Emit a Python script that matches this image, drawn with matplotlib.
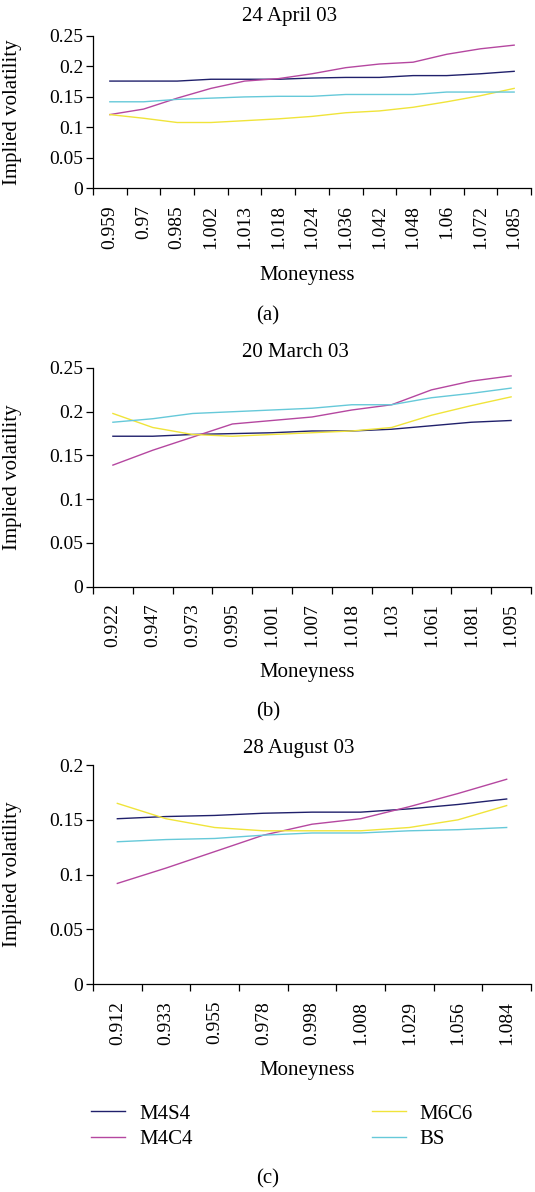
import numpy as np
import matplotlib
matplotlib.use("Agg")
import matplotlib.pyplot as plt
from matplotlib.ticker import FixedLocator, FormatStrFormatter

plt.rcParams['font.family'] = ['Liberation Serif', 'DejaVu Serif']

W, H = 535, 1192

# Panel (a): 24 April 03
money_a = ['0.959', '0.97', '0.985', '1.002', '1.013', '1.018', '1.024',
           '1.036', '1.042', '1.048', '1.06', '1.072', '1.085']
m4s4_a = [0.176, 0.176, 0.176, 0.179, 0.179, 0.179, 0.181, 0.182, 0.182, 0.185, 0.185, 0.188, 0.192]
m4c4_a = [0.121, 0.130, 0.148, 0.164, 0.176, 0.180, 0.188, 0.198, 0.204, 0.207, 0.220, 0.229, 0.235]
m6c6_a = [0.121, 0.115, 0.108, 0.108, 0.111, 0.114, 0.118, 0.124, 0.127, 0.133, 0.142, 0.152, 0.164]
bs_a = [0.142, 0.142, 0.146, 0.148, 0.150, 0.151, 0.151, 0.154, 0.154, 0.154, 0.158, 0.158, 0.158]

# Panel (b): 20 March 03
money_b = ['0.922', '0.947', '0.973', '0.995', '1.001', '1.007', '1.018',
           '1.03', '1.061', '1.081', '1.095']
m4s4_b = [0.172, 0.172, 0.174, 0.175, 0.176, 0.178, 0.178, 0.180, 0.184, 0.188, 0.190]
m4c4_b = [0.139, 0.156, 0.171, 0.186, 0.190, 0.194, 0.202, 0.208, 0.225, 0.235, 0.241]
m6c6_b = [0.198, 0.182, 0.174, 0.172, 0.174, 0.176, 0.178, 0.182, 0.196, 0.207, 0.217]
bs_b = [0.188, 0.192, 0.198, 0.200, 0.202, 0.204, 0.208, 0.208, 0.216, 0.221, 0.227]

# Panel (c): 28 August 03
money_c = ['0.912', '0.933', '0.955', '0.978', '0.998', '1.008', '1.029', '1.056', '1.084']
m4s4_c = [0.151, 0.153, 0.154, 0.156, 0.157, 0.157, 0.160, 0.164, 0.169]
m4c4_c = [0.092, 0.106, 0.121, 0.136, 0.146, 0.151, 0.162, 0.174, 0.187]
m6c6_c = [0.165, 0.151, 0.143, 0.140, 0.140, 0.140, 0.143, 0.150, 0.163]
bs_c = [0.130, 0.132, 0.133, 0.136, 0.138, 0.138, 0.140, 0.141, 0.143]

series_names = ['M4S4', 'M4C4', 'M6C6', 'BS']
colors = ['#20206b', '#b547a0', '#f0e43a', '#66c9d9']

panels = [
    ('24 April 03', money_a, [m4s4_a, m4c4_a, m6c6_a, bs_a], 0.25, (36, 188.3), 17, 276, 316, '(a)', 290),
    ('20 March 03', money_b, [m4s4_b, m4c4_b, m6c6_b, bs_b], 0.25, (368, 586.7), 353, 673, 712, '(b)', 295),
    ('28 August 03', money_c, [m4s4_c, m4c4_c, m6c6_c, bs_c], 0.2, (765, 984.3), 748, 1070, 1179, '(c)', 299),
]

fig = plt.figure(figsize=(W / 100, H / 100), dpi=100)
left_px, right_px = 93, 531
fs_tick = 14
fs_lab = 15

for title, cats, data, ymax, (top, bot), ty, my, cy, cap, tx in panels:
    ax = fig.add_axes([left_px / W, 1 - bot / H, (right_px - left_px) / W, (bot - top) / H])
    n = len(cats)
    x = np.arange(n)
    lines = []
    for vals, name, c in zip(data, series_names, colors):
        ln, = ax.plot(x, vals, color=c, lw=1.0, label=name)
        lines.append(ln)
    ax.set_xlim(-0.5, n - 0.5)
    ax.set_ylim(0, ymax)
    ax.yaxis.set_major_locator(FixedLocator(np.arange(0, ymax + 0.001, 0.05)))
    ax.yaxis.set_major_formatter(FormatStrFormatter('%g'))
    ax.xaxis.set_major_locator(FixedLocator(np.arange(n + 1) - 0.5))
    ax.xaxis.set_minor_locator(FixedLocator(x))
    ax.set_xticklabels([], minor=False)
    ax.set_xticklabels(cats, minor=True, rotation=90, fontsize=fs_tick)
    ax.tick_params(axis='x', which='major', direction='out', length=5, width=0.9)
    ax.tick_params(axis='x', which='minor', length=0, pad=12)
    ax.tick_params(axis='y', direction='out', length=5, width=0.9, pad=2, labelsize=fs_tick)
    for s in ['top', 'right']:
        ax.spines[s].set_visible(False)
    for s in ['left', 'bottom']:
        ax.spines[s].set_linewidth(0.9)
    ax.set_ylabel('Implied volatility', fontsize=fs_lab)
    ax.yaxis.set_label_coords((22 - left_px) / (right_px - left_px), 0.5)
    fig.text(tx / W, 1 - ty / H, title, ha='center', va='center', fontsize=fs_lab)
    fig.text(307 / W, 1 - my / H, 'Moneyness', ha='center', va='center', fontsize=fs_lab)
    fig.text(268 / W, 1 - cy / H, cap, ha='center', va='center', fontsize=fs_lab)

fig.legend(lines, series_names, ncol=2, loc='upper left',
           bbox_to_anchor=(91 / W, 1 - 1104 / H), frameon=False, fontsize=fs_lab,
           handlelength=1.65, handletextpad=0.65, columnspacing=8.6,
           borderpad=0, borderaxespad=0, labelspacing=0.3)

fig.savefig('out.png', dpi=100)
